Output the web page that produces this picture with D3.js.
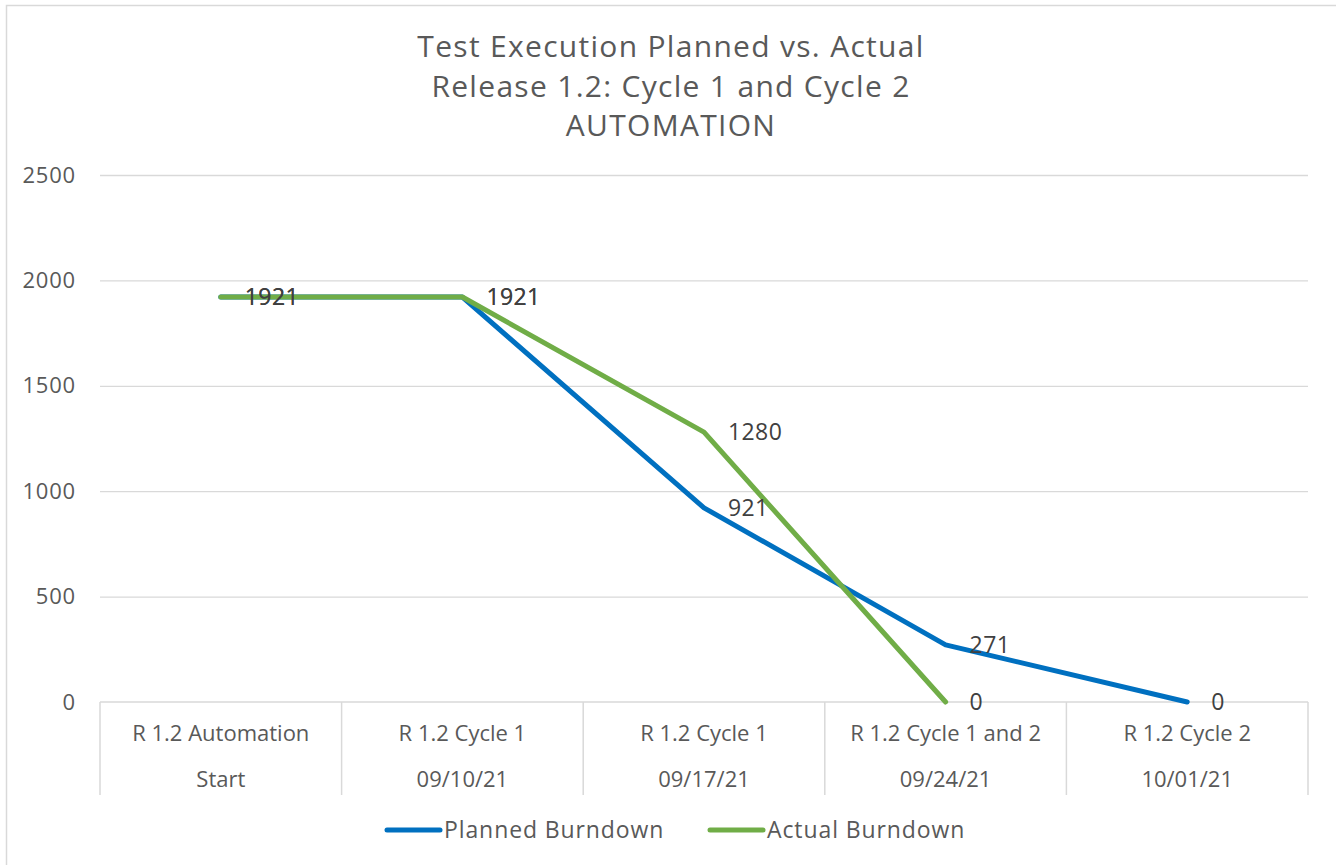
<!DOCTYPE html>
<html>
<head>
<meta charset="utf-8">
<script src="https://cdn.jsdelivr.net/npm/d3@7"></script>
<style>
  html, body { margin: 0; padding: 0; background: #fff; }
  svg { display: block; font-family: "Open Sans", "Liberation Sans", sans-serif; }
</style>
</head>
<body>
<svg id="chart" width="1336" height="865"></svg>
<script>
const titleLines = ["Test Execution Planned vs. Actual", "Release 1.2: Cycle 1 and Cycle 2", "AUTOMATION"];
const categoryNames = ["R 1.2 Automation", "R 1.2 Cycle 1", "R 1.2 Cycle 1", "R 1.2 Cycle 1 and 2", "R 1.2 Cycle 2"];
const categoryDates = ["Start", "09/10/21", "09/17/21", "09/24/21", "10/01/21"];
const plannedBurndown = [1921, 1921, 921, 271, 0];
const actualBurndown = [1921, 1921, 1280, 0, null];
const yTicks = [0, 500, 1000, 1500, 2000, 2500];
const seriesNames = ["Planned Burndown", "Actual Burndown"];
const seriesColors = ["#0070C0", "#70AD47"];

const svg = d3.select("#chart");
const textColor = "#595959";
const gridColor = "#D9D9D9";

// chart border
svg.append("rect").attr("x", 6.5).attr("y", 5.5).attr("width", 1340).attr("height", 880)
  .attr("fill", "none").attr("stroke", gridColor).attr("stroke-width", 1.5);

const mLeft = 100, mRight = 1308, mTop = 175, mBottom = 702;
const idx = d3.range(categoryNames.length);
const x = d3.scaleBand().domain(idx).range([mLeft, mRight]).padding(0);
const y = d3.scaleLinear().domain([0, 2500]).range([mBottom, mTop]);
const cx = i => x(i) + x.bandwidth() / 2;

// title
const title = svg.append("text").attr("text-anchor", "middle").attr("fill", textColor)
  .attr("font-size", 30).attr("letter-spacing", 1.3);
titleLines.forEach((t, i) => {
  title.append("tspan").attr("x", 671).attr("y", 57 + i * 39.5).text(t);
});

// gridlines
const yAxis = d3.axisLeft(y).tickValues(yTicks).tickFormat(d3.format("d"))
  .tickSize(-(mRight - mLeft)).tickPadding(24);
const gy = svg.append("g").attr("transform", `translate(${mLeft},0)`).call(yAxis);
gy.select(".domain").remove();
gy.selectAll(".tick line").attr("stroke", gridColor).attr("stroke-width", 1.3);
gy.selectAll(".tick text").attr("fill", textColor).attr("font-size", 22)
  .attr("letter-spacing", 0.8)
  .attr("font-family", "'Open Sans', sans-serif");
gy.selectAll(".tick").filter(d => d === 0).select("line").remove();

// category axis (multi-level)
const gx = svg.append("g");
gx.append("line").attr("x1", mLeft).attr("x2", mRight).attr("y1", mBottom).attr("y2", mBottom)
  .attr("stroke", gridColor).attr("stroke-width", 1.5);
const bounds = idx.map(i => x(i)).concat([mRight]);
gx.selectAll("line.sep").data(bounds).join("line").attr("class", "sep")
  .attr("x1", d => d).attr("x2", d => d).attr("y1", mBottom).attr("y2", 795)
  .attr("stroke", gridColor).attr("stroke-width", 1.5);
gx.selectAll("text.l1").data(idx).join("text").attr("class", "l1")
  .attr("x", cx).attr("y", 733).attr("dy", "0.35em").attr("text-anchor", "middle")
  .attr("fill", textColor).attr("font-size", 22).attr("letter-spacing", 0)
  .text(i => categoryNames[i]);
gx.selectAll("text.l2").data(idx).join("text").attr("class", "l2")
  .attr("x", cx).attr("y", 779).attr("dy", "0.35em").attr("text-anchor", "middle")
  .attr("fill", textColor).attr("font-size", 22).attr("letter-spacing", 0)
  .text(i => categoryDates[i]);

// lines
const series = [plannedBurndown, actualBurndown];
const line = d3.line().defined(d => d.v !== null).x(d => cx(d.i)).y(d => y(d.v));
series.forEach((s, k) => {
  const pts = s.map((v, i) => ({ i, v }));
  svg.append("path").datum(pts).attr("d", line).attr("fill", "none")
    .attr("stroke", seriesColors[k]).attr("stroke-width", 5)
    .attr("stroke-linejoin", "round").attr("stroke-linecap", "round");
});

// data labels
series.forEach((s, k) => {
  const pts = s.map((v, i) => ({ i, v })).filter(d => d.v !== null);
  svg.append("g").selectAll("text").data(pts).join("text")
    .attr("x", d => cx(d.i) + 24).attr("y", d => y(d.v)).attr("dy", "0.36em")
    .attr("fill", "#404040").attr("font-size", 23).attr("letter-spacing", 0.4)
    .text(d => d.v);
});

// legend
const legendItems = [{ x: 387, name: seriesNames[0], c: seriesColors[0] },
                     { x: 710, name: seriesNames[1], c: seriesColors[1] }];
const lg = svg.append("g");
legendItems.forEach(it => {
  lg.append("line").attr("x1", it.x).attr("x2", it.x + 53).attr("y1", 830).attr("y2", 830)
    .attr("stroke", it.c).attr("stroke-width", 5).attr("stroke-linecap", "round");
  lg.append("text").attr("x", it.x + 57).attr("y", 830).attr("dy", "0.36em")
    .attr("fill", textColor).attr("font-size", 23).attr("letter-spacing", 0.9).text(it.name);
});
</script>
</body>
</html>
